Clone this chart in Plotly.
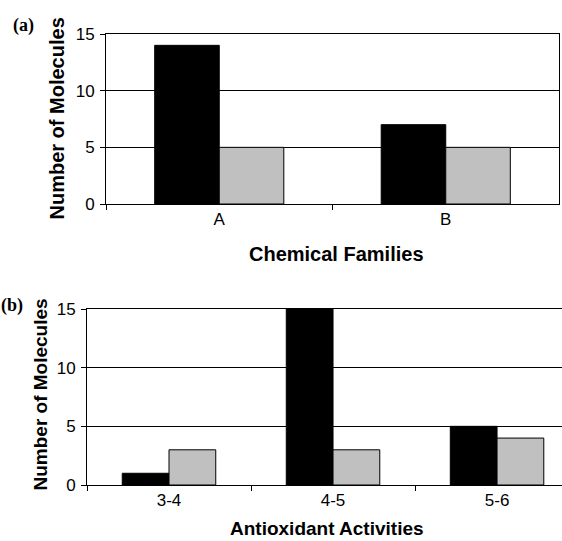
import plotly.graph_objects as go

# Data
families = ["A", "B"]
families_black = [14, 7]
families_gray = [5, 5]

activities = ["3-4", "4-5", "5-6"]
activities_black = [1, 15, 5]
activities_gray = [3, 3, 4]

y_ticks = [0, 5, 10, 15]

W, H = 562, 541
BLACK = "#000000"
GRAY = "#c0c0c0"
TICKFONT = dict(family="Liberation Sans, Arial, sans-serif", size=17, color="#000")
BOLD = "Liberation Sans, Arial, sans-serif"

fig = go.Figure()

fig.add_trace(go.Bar(x=families, y=families_black, xaxis="x", yaxis="y",
                     marker=dict(color=BLACK, line=dict(color="#000", width=1)),
                     showlegend=False))
fig.add_trace(go.Bar(x=families, y=families_gray, xaxis="x", yaxis="y",
                     marker=dict(color=GRAY, line=dict(color="#000", width=1)),
                     showlegend=False))
fig.add_trace(go.Bar(x=activities, y=activities_black, xaxis="x2", yaxis="y2",
                     marker=dict(color=BLACK, line=dict(color="#000", width=1)),
                     showlegend=False))
fig.add_trace(go.Bar(x=activities, y=activities_gray, xaxis="x2", yaxis="y2",
                     marker=dict(color=GRAY, line=dict(color="#000", width=1)),
                     showlegend=False))

def px_x(p):
    return p / W

def px_y(p):
    return 1 - p / H

axis_common = dict(showline=True, linecolor="#000", linewidth=1, ticks="outside",
                   ticklen=5, tickcolor="#000", tickfont=TICKFONT, zeroline=False)

fig.update_layout(
    width=W, height=H,
    margin=dict(l=0, r=0, t=0, b=0, autoexpand=False),
    paper_bgcolor="white", plot_bgcolor="white",
    barmode="group", bargap=0.43, bargroupgap=0,
    xaxis=dict(domain=[px_x(106), px_x(559)], anchor="y", tickson="boundaries",
               mirror=True, showgrid=False, fixedrange=True,
               **axis_common),
    yaxis=dict(domain=[px_y(204), px_y(34)], anchor="x", range=[0, 15],
               tickvals=y_ticks, showgrid=True, gridcolor="#000", gridwidth=1,
               mirror=True, ticklabelstandoff=2, **axis_common),
    xaxis2=dict(domain=[px_x(87), 1.0], anchor="y2", tickson="boundaries",
                range=[-0.5, 2.396], mirror=True, showgrid=False,
                **axis_common),
    yaxis2=dict(domain=[px_y(485), px_y(309)], anchor="x2", range=[0, 15],
                tickvals=y_ticks, showgrid=True, gridcolor="#000", gridwidth=1,
                ticklabelstandoff=2, **axis_common),
)

annotations = [
    dict(text="<b>(a)</b>", x=px_x(23.5), y=px_y(25.5),
         font=dict(family="Liberation Serif, Times New Roman, serif", size=18, color="#000")),
    dict(text="<b>(b)</b>", x=px_x(11.5), y=px_y(305),
         font=dict(family="Liberation Serif, Times New Roman, serif", size=18, color="#000")),
    dict(text="<b>Number of Molecules</b>", x=px_x(56), y=px_y(118.5), textangle=-90,
         font=dict(family=BOLD, size=20, color="#000")),
    dict(text="<b>Number of Molecules</b>", x=px_x(40), y=px_y(394.5), textangle=-90,
         font=dict(family=BOLD, size=19, color="#000")),
    dict(text="<b>Chemical Families</b>", x=px_x(336), y=px_y(254),
         font=dict(family=BOLD, size=20, color="#000")),
    dict(text="<b>Antioxidant Activities</b>", x=px_x(327), y=px_y(528.5),
         font=dict(family=BOLD, size=19, color="#000")),
]
for a in annotations:
    a.update(xref="paper", yref="paper", showarrow=False, xanchor="center", yanchor="middle")
fig.update_layout(annotations=annotations)

fig.write_html("out.html", config={"displayModeBar": False},
               post_script="document.body.style.margin='0px';document.body.style.overflow='hidden';")
